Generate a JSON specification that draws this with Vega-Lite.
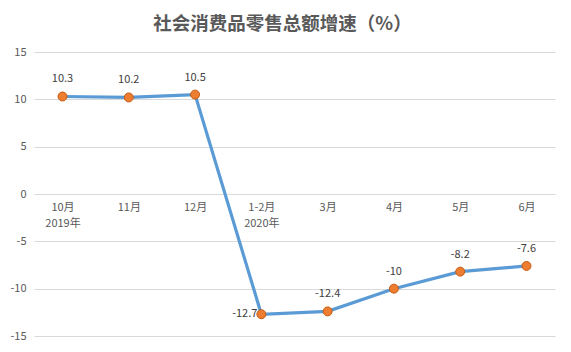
{
  "$schema": "https://vega.github.io/schema/vega-lite/v6.json",
  "width": 521,
  "height": 284,
  "autosize": {"type": "none"},
  "padding": {"left": 34, "top": 52, "right": 16, "bottom": 16},
  "background": "white",
  "title": {
    "text": "社会消费品零售总额增速（%）",
    "font": "Noto Sans CJK SC",
    "fontSize": 18.5,
    "fontWeight": "bold",
    "color": "#595959",
    "anchor": "middle",
    "dx": -12,
    "offset": 13
  },
  "config": {
    "view": {"stroke": null},
    "font": "Noto Sans CJK SC"
  },
  "data": {
    "values": [
      {"month": "10月|2019年", "v": 10.3},
      {"month": "11月", "v": 10.2},
      {"month": "12月", "v": 10.5},
      {"month": "1-2月|2020年", "v": -12.7},
      {"month": "3月", "v": -12.4},
      {"month": "4月", "v": -10},
      {"month": "5月", "v": -8.2},
      {"month": "6月", "v": -7.6}
    ]
  },
  "encoding": {
    "x": {
      "field": "month",
      "type": "ordinal",
      "sort": null,
      "scale": {"type": "point", "padding": 0.43},
      "axis": {
        "title": null,
        "offset": -142,
        "domain": false,
        "ticks": false,
        "labelAngle": 0,
        "labelPadding": 7,
        "labelFontSize": 11,
        "labelColor": "#595959",
        "labelLineHeight": 16,
        "labelExpr": "split(datum.label, '|')"
      }
    },
    "y": {
      "field": "v",
      "type": "quantitative",
      "scale": {"domain": [-15, 15], "nice": false, "zero": false},
      "axis": {
        "title": null,
        "values": [-15, -10, -5, 0, 5, 10, 15],
        "domain": false,
        "ticks": false,
        "labelPadding": 8,
        "labelFontSize": 11,
        "labelColor": "#595959",
        "labelExpr": "toString(datum.value)",
        "gridColor": "#D9D9D9",
        "gridWidth": 1
      }
    }
  },
  "layer": [
    {
      "mark": {"type": "line", "color": "#5B9BD5", "strokeWidth": 3.2}
    },
    {
      "mark": {"type": "point", "filled": true, "fill": "#ED7D31", "stroke": "#C55A11", "strokeWidth": 1, "size": 80, "opacity": 1}
    },
    {
      "transform": [{"filter": "datum.month != '1-2月|2020年'"}],
      "mark": {"type": "text", "dy": -17, "fontSize": 11, "color": "#404040"},
      "encoding": {"text": {"field": "v", "type": "nominal"}}
    },
    {
      "transform": [{"filter": "datum.month == '1-2月|2020年'"}],
      "mark": {"type": "text", "align": "right", "dx": -4, "fontSize": 11, "color": "#404040"},
      "encoding": {"text": {"field": "v", "type": "nominal"}}
    }
  ]
}
